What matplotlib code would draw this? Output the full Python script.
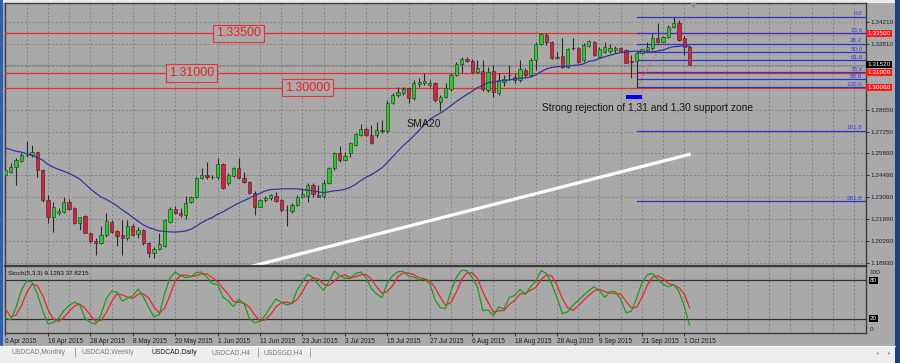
import numpy as np
import pandas as pd
import matplotlib
matplotlib.use('Agg')
import matplotlib.pyplot as plt
from matplotlib.patches import Rectangle
from matplotlib.transforms import blended_transform_factory

# ------------------------------------------------------------------ data
# closes / highs / lows of the 19 sessions before the first visible bar (warm-up for SMA20 and Stoch)
pre_close = [1.2690, 1.2760, 1.2690, 1.2790, 1.2760, 1.2800, 1.2620, 1.2720, 1.2600, 1.2500,
             1.2520, 1.2500, 1.2490, 1.2560, 1.2690, 1.2670, 1.2560, 1.2560, 1.2460]
pre_high = [1.2740, 1.2800, 1.2780, 1.2830, 1.2810, 1.2830, 1.2810, 1.2750, 1.2730, 1.2610,
            1.2570, 1.2560, 1.2560, 1.2590, 1.2710, 1.2720, 1.2680, 1.2590, 1.2580]
pre_low = [1.2640, 1.2670, 1.2660, 1.2680, 1.2720, 1.2740, 1.2600, 1.2600, 1.2590, 1.2490,
           1.2470, 1.2460, 1.2440, 1.2470, 1.2560, 1.2630, 1.2540, 1.2500, 1.2430]

opens = [1.2450, 1.2471, 1.2503, 1.2541, 1.2577, 1.2577, 1.2594, 1.2482, 1.2291, 1.2185,
         1.2206, 1.2217, 1.2281, 1.2238, 1.2147, 1.2189, 1.2083, 1.2030, 1.2016, 1.2069,
         1.2149, 1.2094, 1.2069, 1.2047, 1.2126, 1.2073, 1.2100, 1.2016, 1.1952, 1.1980,
         1.1999, 1.2153, 1.2232, 1.2206, 1.2196, 1.2281, 1.2308, 1.2429, 1.2450, 1.2435,
         1.2435, 1.2520, 1.2397, 1.2446, 1.2497, 1.2429, 1.2408, 1.2334, 1.2249, 1.2291,
         1.2306, 1.2317, 1.2291, 1.2228, 1.2221, 1.2259, 1.2308, 1.2317, 1.2387, 1.2323,
         1.2315, 1.2397, 1.2493, 1.2588, 1.2546, 1.2588, 1.2641, 1.2705, 1.2741, 1.2705,
         1.2705, 1.2736, 1.2730, 1.2906, 1.2959, 1.2969, 1.3001, 1.2937, 1.3028, 1.3033,
         1.3022, 1.3037, 1.2916, 1.2948, 1.2995, 1.3086, 1.3154, 1.3187, 1.3177, 1.3107,
         1.3113, 1.2990, 1.3113, 1.2969, 1.3043, 1.3086, 1.3075, 1.3054, 1.3118, 1.3086,
         1.3181, 1.3281, 1.3340, 1.3298, 1.3196, 1.3207, 1.3139, 1.3256, 1.3260, 1.3181,
         1.3272, 1.3298, 1.3203, 1.3234, 1.3241, 1.3245, 1.3260, 1.3245, 1.3175, 1.3177,
         1.3224, 1.3245, 1.3256, 1.3319, 1.3298, 1.3325, 1.3393, 1.3419, 1.3319, 1.32653]
highs = [1.2503, 1.2524, 1.2556, 1.2588, 1.2668, 1.2641, 1.2599, 1.2487, 1.2323, 1.2281,
         1.2238, 1.2308, 1.2295, 1.2244, 1.2185, 1.2196, 1.2090, 1.2047, 1.2126, 1.2206,
         1.2164, 1.2100, 1.2164, 1.2164, 1.2137, 1.2122, 1.2105, 1.2026, 1.1994, 1.2079,
         1.2168, 1.2249, 1.2253, 1.2238, 1.2317, 1.2317, 1.2435, 1.2493, 1.2535, 1.2450,
         1.2560, 1.2529, 1.2461, 1.2503, 1.2556, 1.2471, 1.2412, 1.2348, 1.2297, 1.2317,
         1.2329, 1.2344, 1.2295, 1.2259, 1.2270, 1.2323, 1.2365, 1.2397, 1.2397, 1.2387,
         1.2418, 1.2503, 1.2599, 1.2635, 1.2599, 1.2662, 1.2719, 1.2775, 1.2758, 1.2768,
         1.2789, 1.2800, 1.2927, 1.2969, 1.3012, 1.3012, 1.3005, 1.3054, 1.3065, 1.3101,
         1.3054, 1.3043, 1.2959, 1.3033, 1.3097, 1.3171, 1.3198, 1.3198, 1.3185, 1.3181,
         1.3181, 1.3139, 1.3149, 1.3097, 1.3086, 1.3149, 1.3101, 1.3181, 1.3128, 1.3192,
         1.3298, 1.3355, 1.3355, 1.3304, 1.3234, 1.3319, 1.3256, 1.3319, 1.3266, 1.3291,
         1.3308, 1.3304, 1.3266, 1.3298, 1.3283, 1.3270, 1.3266, 1.3254, 1.3213, 1.3234,
         1.3254, 1.3298, 1.3355, 1.3419, 1.3334, 1.3404, 1.3457, 1.3436, 1.3334, 1.32688]
lows = [1.2435, 1.2461, 1.2387, 1.2535, 1.2567, 1.2567, 1.2440, 1.2281, 1.2143, 1.2090,
        1.2196, 1.2206, 1.2228, 1.2139, 1.2100, 1.2079, 1.2016, 1.1941, 1.2011, 1.2058,
        1.2079, 1.1999, 1.1941, 1.2037, 1.2062, 1.2047, 1.2005, 1.1931, 1.1920, 1.1973,
        1.1994, 1.2143, 1.2202, 1.2185, 1.2168, 1.2274, 1.2302, 1.2423, 1.2423, 1.2423,
        1.2423, 1.2359, 1.2387, 1.2440, 1.2429, 1.2397, 1.2329, 1.2196, 1.2244, 1.2281,
        1.2291, 1.2276, 1.2217, 1.2126, 1.2206, 1.2253, 1.2302, 1.2281, 1.2312, 1.2308,
        1.2302, 1.2393, 1.2482, 1.2535, 1.2541, 1.2567, 1.2635, 1.2698, 1.2698, 1.2647,
        1.2690, 1.2720, 1.2720, 1.2901, 1.2948, 1.2959, 1.2906, 1.2927, 1.3012, 1.3022,
        1.3007, 1.2916, 1.2859, 1.2937, 1.2986, 1.3079, 1.3101, 1.3171, 1.3101, 1.3101,
        1.2986, 1.2980, 1.2948, 1.2959, 1.3016, 1.3054, 1.3037, 1.3043, 1.3075, 1.3075,
        1.3118, 1.3276, 1.3276, 1.3185, 1.3185, 1.3128, 1.3128, 1.3245, 1.3160, 1.3171,
        1.3266, 1.3207, 1.3198, 1.3224, 1.3224, 1.3224, 1.3228, 1.3160, 1.3065, 1.3012,
        1.3217, 1.3234, 1.3245, 1.3291, 1.3294, 1.3319, 1.3383, 1.3304, 1.3213, 1.31520]
closes = [1.2482, 1.2503, 1.2546, 1.2577, 1.2579, 1.2594, 1.2482, 1.2291, 1.2185, 1.2244,
          1.2221, 1.2281, 1.2234, 1.2143, 1.2181, 1.2083, 1.2033, 1.2016, 1.2069, 1.2158,
          1.2090, 1.2064, 1.2047, 1.2126, 1.2069, 1.2100, 1.2016, 1.1952, 1.1980, 1.2011,
          1.2164, 1.2232, 1.2206, 1.2196, 1.2270, 1.2308, 1.2429, 1.2450, 1.2435, 1.2437,
          1.2520, 1.2365, 1.2450, 1.2497, 1.2433, 1.2408, 1.2334, 1.2249, 1.2291, 1.2306,
          1.2321, 1.2287, 1.2228, 1.2230, 1.2259, 1.2312, 1.2329, 1.2387, 1.2329, 1.2312,
          1.2401, 1.2493, 1.2588, 1.2546, 1.2571, 1.2652, 1.2709, 1.2741, 1.2705, 1.2652,
          1.2736, 1.2732, 1.2906, 1.2959, 1.2980, 1.2995, 1.2937, 1.3033, 1.3043, 1.3048,
          1.3037, 1.2927, 1.2948, 1.3001, 1.3086, 1.3154, 1.3185, 1.3177, 1.3107, 1.3128,
          1.2995, 1.3107, 1.2980, 1.3054, 1.3058, 1.3088, 1.3054, 1.3122, 1.3086, 1.3181,
          1.3281, 1.3347, 1.3298, 1.3192, 1.3198, 1.3139, 1.3249, 1.3260, 1.3171, 1.3276,
          1.3304, 1.3213, 1.3249, 1.3266, 1.3260, 1.3260, 1.3234, 1.3164, 1.3168, 1.3224,
          1.3249, 1.3266, 1.3319, 1.3298, 1.3325, 1.3393, 1.3419, 1.3308, 1.3266, 1.31520]

date_labels = ["6 Apr 2015", "16 Apr 2015", "28 Apr 2015", "8 May 2015", "20 May 2015",
               "1 Jun 2015", "11 Jun 2015", "23 Jun 2015", "3 Jul 2015", "15 Jul 2015",
               "27 Jul 2015", "6 Aug 2015", "18 Aug 2015", "28 Aug 2015", "9 Sep 2015",
               "21 Sep 2015", "1 Oct 2015"]
price_ticks = [1.34210, 1.32810, 1.31430, 1.30040, 1.28650, 1.27250, 1.25890,
               1.24490, 1.23090, 1.21690, 1.20290, 1.18930]
price_tick_labels = ["1.34210", "1.32810", "", "", "1.28650", "1.27250", "1.25890",
                     "1.24490", "1.23090", "1.21690", "1.20290", "1.18930"]

level_prices = [1.33500, 1.31000, 1.30060]
level_texts = ["1.33500", "1.31000", "1.30000"]
level_text_x = [43.9, 35.1, 57.0]
bid_price = 1.31520

fib_low, fib_high = 1.3008, 1.3456
fib_low_bar, fib_high_bar = 119, 127
fib_ratios = [0.0, 23.6, 38.2, 50.0, 61.8, 78.6, 88.6, 100.0, 161.8, 261.8]
fib_labels = ["0.0", "23.6", "38.2", "50.0", "61.8", "78.6", "88.6", "100.0", "161.8", "261.8"]

trend_x = [40, 129.2]
trend_y = [1.1814, 1.2583]

zone_x = [117, 120]
zone_y = [1.2930, 1.2958]

title_text = "USDCAD,Daily  1.32653 1.32688 1.31520 1.31520"
tabs = ["USDCAD,Monthly", "USDCAD,Weekly", "USDCAD,Daily", "USDCAD,H4", "USDSGD,H4"]

# ------------------------------------------------------------------ indicators
all_c = pd.Series(pre_close + closes)
all_h = pd.Series(pre_high + highs)
all_l = pd.Series(pre_low + lows)
npre = len(pre_close)
sma20 = all_c.rolling(20).mean().values[npre:]
ll = all_l.rolling(5).min()
hh = all_h.rolling(5).max()
k = 100 * (all_c - ll).rolling(3).sum() / (hh - ll).rolling(3).sum()
d = k.rolling(3).mean()
stoch_k = k.values[npre:]
stoch_d = d.values[npre:]

# ------------------------------------------------------------------ figure
plt.rcParams['font.family'] = ['Liberation Sans', 'DejaVu Sans']
BG = '#a9a9a9'
W, H = 900, 363
fig = plt.figure(figsize=(9, 3.63), dpi=100, facecolor=BG)

bg = fig.add_axes([0, 0, 1, 1], zorder=-10)
bg.set_xlim(0, W); bg.set_ylim(H, 0); bg.axis('off')
bg.add_patch(Rectangle((0, 0), W, 2.6, color='#ececec', lw=0))
bg.add_patch(Rectangle((0, 0), 3.2, H, color='#2b5fb3', lw=0))
bg.add_patch(Rectangle((895, 0), 5, H, color='#1d3f7c', lw=0))
bg.add_patch(Rectangle((0, 345.5), 895, H - 345.5, color='#eeeeee', lw=0))
bg.plot([0, 895], [345.5, 345.5], color='#ffffff', lw=0.8)
bg.text(8, 9.5, title_text, fontsize=4.7, color='#101010', va='center', ha='left')

# tabs
tab_x = [12, 82, 151, 211, 264]
for j, (tx, t) in enumerate(zip(tab_x, tabs)):
    active = (j == 2)
    bg.text(tx, 352.6, t, fontsize=4.9, color='#151515' if active else '#7a7a7a',
            va='center', ha='left')
bg.add_patch(Rectangle((143, 346.5), 61, 12, facecolor='#ffffff', edgecolor='#555555', lw=0.7, zorder=0))
for sx in [74.5, 258, 310]:
    bg.plot([sx, sx], [348, 357], color='#9a9a9a', lw=0.6)
bg.text(877, 353, '\u25c2', fontsize=4, color='#9a9a9a', ha='center', va='center', family='DejaVu Sans')
bg.text(889, 353, '\u25b8', fontsize=4, color='#9a9a9a', ha='center', va='center', family='DejaVu Sans')

n = len(closes)
x = np.arange(n)
xl = (-0.094, 162.26)
grid_x = np.arange(0, 163, 4)

ax1 = fig.add_axes([5.0 / W, 1 - 265.5 / H, (866 - 5.0) / W, (265.5 - 3) / H], facecolor=BG)
ax1.set_xlim(*xl)
ax1.set_ylim(1.18743, 1.35437)

for gx in grid_x:
    ax1.axvline(gx, color='#848484', lw=0.7, dashes=(2, 2), zorder=1)
for gy in price_ticks:
    ax1.axhline(gy, color='#848484', lw=0.7, dashes=(2, 2), zorder=1)

# trend line (white)
ax1.plot(trend_x, trend_y, color='white', lw=2.3, zorder=2, solid_capstyle='butt')

# horizontal levels
for lp in level_prices:
    ax1.axhline(lp, color='#ee2a2a', lw=0.9, zorder=3)
ax1.axhline(bid_price, color='#8a8a8a', lw=0.8, zorder=2)

# fibonacci
rng = fib_high - fib_low
for r, lab in zip(fib_ratios, fib_labels):
    lv = fib_high - r / 100.0 * rng
    ax1.plot([fib_low_bar, xl[1]], [lv, lv], color='#3333cc', lw=0.9, zorder=3)
    ax1.text(161.6, lv + 0.0003, lab, fontsize=4.5, color='#3a3ad8', ha='right', va='bottom', zorder=6)
ax1.plot([fib_low_bar, fib_high_bar], [fib_low, fib_high], color='#ff4040', lw=0.8,
         dashes=(1, 2), zorder=4)

# candles
o = np.array(opens); h = np.array(highs); lo = np.array(lows); c = np.array(closes)
up = c >= o
ax1.vlines(x, lo, h, color='#2a2a2a', lw=0.8, zorder=5)
body_h = np.maximum(np.abs(c - o), 0.00005)
ax1.bar(x, body_h, bottom=np.minimum(o, c), width=0.62,
        color=np.where(up, '#1fd01f', '#dc1e3c'), edgecolor='#2a2a2a', lw=0.4, zorder=6)

# SMA20
ax1.plot(x, sma20, color='#3434a0', lw=0.9, zorder=7)

# level text boxes
for lx, lp, lt in zip(level_text_x, level_prices, level_texts):
    ax1.text(lx, lp, lt, fontsize=9, color='#ee2020', ha='center', va='center', zorder=8,
             bbox=dict(boxstyle='square,pad=0.22', fc=BG, ec='#ee3030', lw=0.8))

ax1.add_patch(Rectangle((zone_x[0], zone_y[0]), zone_x[1] - zone_x[0], zone_y[1] - zone_y[0],
                        color='#0000ff', lw=0, zorder=8))
ax1.text(101.1, 1.28759, "Strong rejection of 1,31 and 1,30 support zone", fontsize=7.4,
         color='#1a1a1a', ha='left', va='center', zorder=8)
ax1.text(75.7, 1.27742, "SMA20", fontsize=7.6, color='#1a1a1a', ha='left', va='center', zorder=8)

ax1.plot([129.6], [1.3534], marker='v', ms=3, color='#8c8c8c', clip_on=False, zorder=9)

ax1.set_xticks([])
ax1.yaxis.tick_right()
ax1.set_yticks(price_ticks)
ax1.set_yticklabels(price_tick_labels)
ax1.tick_params(axis='y', labelsize=4.6, length=2, width=0.6, pad=1.2, colors='#202020')
for s in ax1.spines.values():
    s.set_color('#3c3c3c'); s.set_linewidth(1.0)
ax1.spines['bottom'].set_linewidth(1.6)

tr1 = blended_transform_factory(ax1.transAxes, ax1.transData)
for val, txt, fc in [(1.33500, "1.33500", '#ff1a1a'), (1.31520, "1.31520", '#000000'),
                     (1.31000, "1.31000", '#ff1a1a'), (1.30060, "1.30060", '#ff1a1a')]:
    ax1.text(1.0016, val, txt, transform=tr1, fontsize=4.6, color='white', ha='left', va='center',
             clip_on=False, zorder=10, bbox=dict(boxstyle='square,pad=0.18', fc=fc, ec='none'))

# ------------------------------------------------------------------ stochastic panel
ax2 = fig.add_axes([5.0 / W, 1 - 332.7 / H, (866 - 5.0) / W, (332.7 - 266.3) / H], facecolor=BG)
ax2.set_xlim(*xl)
ax2.set_ylim(-1.5, 101.5)
for gx in grid_x:
    ax2.axvline(gx, color='#848484', lw=0.7, dashes=(2, 2), zorder=1)
ax2.axhline(80, color='#303030', lw=0.9, zorder=2)
ax2.axhline(20, color='#303030', lw=0.9, zorder=2)
ax2.plot(x, stoch_k, color='#1f9a1f', lw=0.9, zorder=4)
ax2.plot(x, stoch_d, color='#f02424', lw=0.9, zorder=3)
ax2.text(0.0035, 0.93, "Stoch(5,3,3) 9.1293 37.8215", transform=ax2.transAxes, fontsize=4.6,
         color='#101010', ha='left', va='top')

ax2.set_yticks([])
tick_idx = np.arange(0, n, 8)
ax2.set_xticks(tick_idx)
ax2.set_xticklabels(date_labels, ha='left')
ax2.tick_params(axis='x', labelsize=4.7, length=2, width=0.6, pad=1.5, colors='#202020')
for s in ax2.spines.values():
    s.set_color('#3c3c3c'); s.set_linewidth(1.0)

tr2 = blended_transform_factory(ax2.transAxes, ax2.transData)
ax2.text(1.0045, 92, "100", transform=tr2, fontsize=4.6, color='#202020', ha='left', va='center', clip_on=False)
ax2.text(1.0045, 3, "0", transform=tr2, fontsize=4.6, color='#202020', ha='left', va='center', clip_on=False)
for val in (80, 20):
    ax2.text(1.0045, val, str(val), transform=tr2, fontsize=4.6, color='white', ha='left', va='center',
             clip_on=False, bbox=dict(boxstyle='square,pad=0.15', fc='black', ec='none'))

fig.savefig('out.png', dpi=100, facecolor=BG)
